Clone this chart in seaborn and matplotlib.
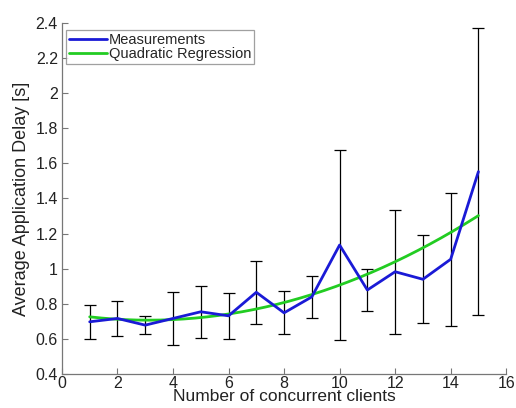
import numpy as np
import pandas as pd
import seaborn as sns
import matplotlib.pyplot as plt

# Values
clients = [1, 2, 3, 4, 5, 6, 7, 8, 9, 10, 11, 12, 13, 14, 15]
mean_delay = [0.698, 0.717, 0.679, 0.717, 0.755, 0.732, 0.866, 0.749,
              0.840, 1.135, 0.879, 0.983, 0.940, 1.054, 1.553]
delay_err = [0.097, 0.100, 0.052, 0.152, 0.147, 0.130, 0.180, 0.122,
             0.120, 0.540, 0.122, 0.354, 0.250, 0.378, 0.817]

x_ticks = [0, 2, 4, 6, 8, 10, 12, 14, 16]
y_ticks = [0.4, 0.6, 0.8, 1.0, 1.2, 1.4, 1.6, 1.8, 2.0, 2.2, 2.4]
y_tick_labels = ["0.4", "0.6", "0.8", "1", "1.2", "1.4", "1.6", "1.8", "2", "2.2", "2.4"]

# quadratic regression over the measurements
coef = np.polyfit(clients, mean_delay, 2)
x_fit = np.linspace(clients[0], clients[-1], 200)
df_meas = pd.DataFrame({"clients": clients, "delay": mean_delay})
df_fit = pd.DataFrame({"clients": x_fit, "delay": np.polyval(coef, x_fit)})

sns.set_style("white")
plt.rcParams["font.family"] = ["Liberation Sans", "DejaVu Sans"]

fig = plt.figure(figsize=(5.16, 4.08), dpi=100)
ax = fig.add_axes([0.120, 0.083, 0.861, 0.861])

ax.errorbar(clients, mean_delay, yerr=delay_err, fmt="none", ecolor="black",
            elinewidth=0.9, capsize=4, capthick=0.9, zorder=1)
sns.lineplot(data=df_meas, x="clients", y="delay", ax=ax, color="#1a1ad6",
             linewidth=2, label="Measurements", zorder=3)
sns.lineplot(data=df_fit, x="clients", y="delay", ax=ax, color="#22cc22",
             linewidth=2, label="Quadratic Regression", zorder=2)

ax.set_xlim(0, 16)
ax.set_ylim(0.4, 2.4)
ax.set_xticks(x_ticks)
ax.set_yticks(y_ticks)
ax.set_yticklabels(y_tick_labels)
ax.tick_params(direction="in", length=4, width=0.8, color="#777777",
               labelsize=11.5, labelcolor="#222222", pad=3)
ax.tick_params(axis="x", bottom=True, pad=1)
ax.tick_params(axis="y", left=True)

for side in ["top", "right"]:
    ax.spines[side].set_visible(False)
for side in ["left", "bottom"]:
    ax.spines[side].set_color("#777777")
    ax.spines[side].set_linewidth(0.9)

ax.set_xlabel("Number of concurrent clients", fontsize=12.5, color="#222222", labelpad=-1)
ax.set_ylabel("Average Application Delay [s]", fontsize=13, color="#222222", labelpad=4)

leg = ax.legend(loc="upper left", bbox_to_anchor=(0.01, 0.98), fontsize=10.5,
                frameon=True, fancybox=False, handlelength=2.6, handletextpad=0.1,
                borderpad=0.2, labelspacing=0.0, borderaxespad=0.0)
leg.get_frame().set_edgecolor("#888888")
leg.get_frame().set_linewidth(0.9)

fig.savefig("out.png", dpi=100)
